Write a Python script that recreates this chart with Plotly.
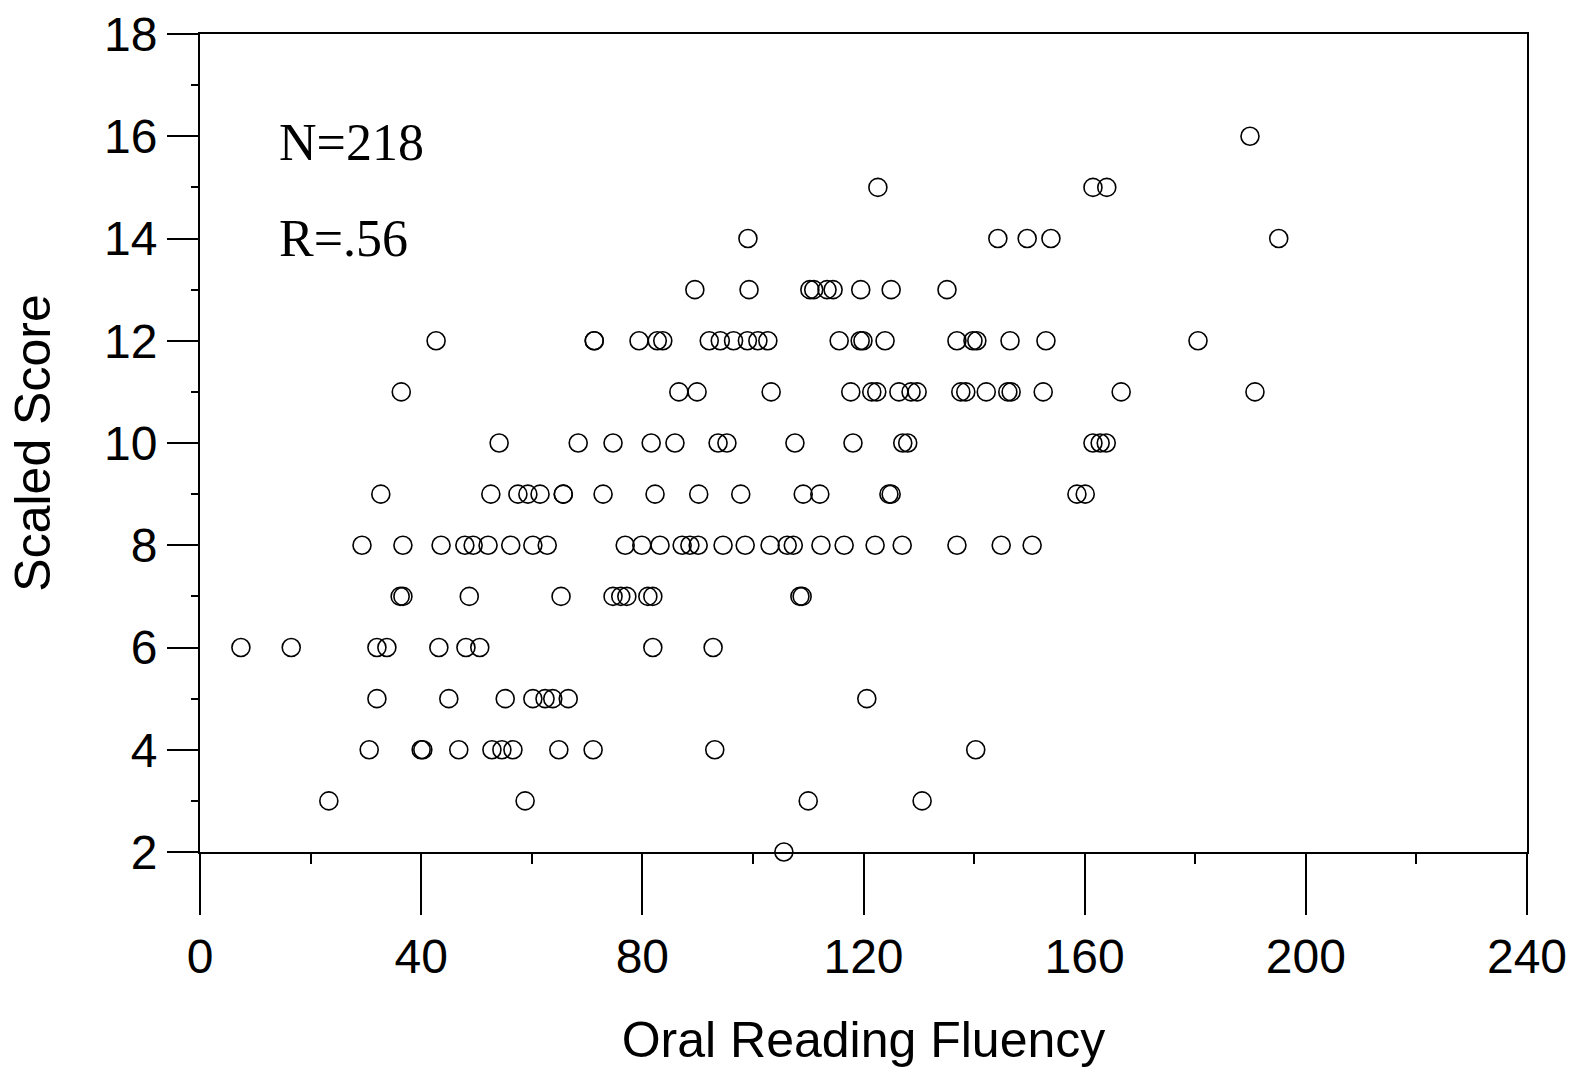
import plotly.graph_objects as go

# Oral Reading Fluency values read at each Scaled Score level
orf_score_16 = [189.9]
orf_score_15 = [122.6, 161.5, 164.0]
orf_score_14 = [99.1, 144.3, 149.6, 153.9, 195.1]
orf_score_13 = [89.5, 99.3, 110.3, 111.0, 113.4, 114.5, 119.5, 125.0, 135.1]
orf_score_12 = [42.7, 71.3, 71.3, 79.4, 82.7, 83.7, 92.1, 94.1, 96.5, 99.0, 100.9, 102.7,
                115.6, 119.4, 119.9, 123.9, 136.9, 139.8, 140.5, 146.5, 153.0, 180.5]
orf_score_11 = [36.4, 86.6, 89.9, 103.3, 117.7, 121.5, 122.4, 126.4, 128.6, 129.7, 137.6,
                138.5, 142.2, 146.1, 146.7, 152.5, 166.6, 190.8]
orf_score_10 = [54.1, 68.4, 74.7, 81.6, 85.9, 93.7, 95.3, 107.6, 118.1, 127.1, 128.0,
                161.5, 162.8, 163.9]
orf_score_9 = [32.7, 52.6, 57.5, 59.3, 61.5, 65.7, 65.7, 72.9, 82.3, 90.2, 97.8, 109.1,
               112.1, 124.6, 125.0, 158.6, 160.1]
orf_score_8 = [29.3, 36.7, 43.6, 47.9, 49.4, 52.1, 56.2, 60.2, 62.8, 76.9, 79.9, 83.2,
               87.2, 88.6, 90.1, 94.6, 98.6, 103.1, 106.2, 107.3, 112.3, 116.5, 122.1,
               127.0, 136.9, 144.9, 150.5]
orf_score_7 = [36.2, 36.7, 48.7, 65.3, 74.7, 76.1, 77.2, 81.0, 81.9, 108.5, 108.9]
orf_score_6 = [7.4, 16.5, 32.0, 33.8, 43.2, 48.1, 50.6, 81.9, 92.8]
orf_score_5 = [32.0, 45.0, 55.2, 60.2, 62.4, 63.8, 66.6, 120.6]
orf_score_4 = [30.6, 40.0, 40.3, 46.8, 52.8, 54.6, 56.6, 64.9, 71.1, 93.1, 140.3]
orf_score_3 = [23.3, 58.8, 110.0, 130.6]
orf_score_2 = [105.6]

score_levels = [16, 15, 14, 13, 12, 11, 10, 9, 8, 7, 6, 5, 4, 3, 2]
orf_by_level = [orf_score_16, orf_score_15, orf_score_14, orf_score_13, orf_score_12,
                orf_score_11, orf_score_10, orf_score_9, orf_score_8, orf_score_7,
                orf_score_6, orf_score_5, orf_score_4, orf_score_3, orf_score_2]

x_ticks = [0, 40, 80, 120, 160, 200, 240]
y_ticks = [2, 4, 6, 8, 10, 12, 14, 16, 18]
stat_labels = ["N=218", "R=.56"]

xs, ys = [], []
for lvl, vals in zip(score_levels, orf_by_level):
    for v in vals:
        xs.append(v)
        ys.append(lvl)

fig = go.Figure()
fig.add_trace(go.Scatter(
    x=xs, y=ys, mode="markers", cliponaxis=False, showlegend=False,
    marker=dict(symbol="circle-open", size=18, color="black", line=dict(width=1.6)),
))

sans = "Liberation Sans, Arial, sans-serif"
fig.update_layout(
    width=1569, height=1068,
    margin=dict(l=200, r=42, t=34, b=216, autoexpand=False),
    paper_bgcolor="white", plot_bgcolor="white",
    font=dict(family=sans, color="black"),
    xaxis=dict(
        range=[0, 240], tickvals=x_ticks, ticktext=[str(t) for t in x_ticks],
        automargin=False,
        ticks="outside", ticklen=61, tickwidth=2, tickcolor="black",
        showline=True, linecolor="black", linewidth=2, mirror=True,
        showgrid=False, zeroline=False,
        tickfont=dict(family=sans, size=48, color="black"),
        minor=dict(dtick=20, tick0=0, ticks="outside", ticklen=10, tickwidth=2, tickcolor="black", showgrid=False),
        title=dict(text="Oral Reading Fluency", font=dict(family=sans, size=50, color="black"), standoff=42),
    ),
    yaxis=dict(
        range=[2, 18], tickvals=y_ticks, ticktext=[str(t) for t in y_ticks],
        automargin=False,
        ticks="outside", ticklen=31, tickwidth=2, tickcolor="black",
        showline=True, linecolor="black", linewidth=2, mirror=True,
        showgrid=False, zeroline=False,
        tickfont=dict(family=sans, size=48, color="black"),
        minor=dict(dtick=1, tick0=0, ticks="outside", ticklen=7, tickwidth=2, tickcolor="black", showgrid=False),
        title=dict(text="Scaled Score", font=dict(family=sans, size=50, color="black"), standoff=38),
    ),
)

fig.add_annotation(x=14, y=15.87, xref="x", yref="y", text=stat_labels[0], showarrow=False,
                   xanchor="left", yanchor="middle",
                   font=dict(family="Liberation Serif, Times New Roman, serif", size=52, color="black"))
fig.add_annotation(x=14, y=14.0, xref="x", yref="y", text=stat_labels[1], showarrow=False,
                   xanchor="left", yanchor="middle",
                   font=dict(family="Liberation Serif, Times New Roman, serif", size=52, color="black"))

fig.write_html("out.html", config={"displayModeBar": False},
               post_script="document.body.style.margin='0';")
